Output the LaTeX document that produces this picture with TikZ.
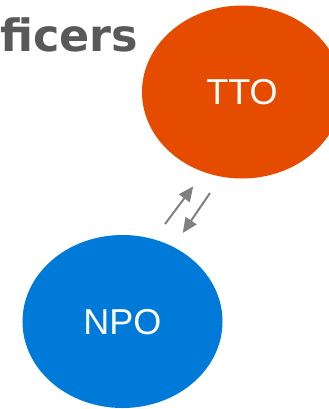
\documentclass[tikz,border=0pt]{standalone}
\usepackage{fontspec}
\setmainfont{Liberation Sans}
\newfontfamily\titlefont{DejaVu Sans}
\usetikzlibrary{shapes.geometric,arrows.meta}
\definecolor{ttoorange}{RGB}{230,76,0}
\definecolor{npoblue}{RGB}{0,122,217}
\definecolor{titlegray}{RGB}{89,89,89}
\definecolor{arrowgray}{RGB}{128,128,128}
\begin{document}
\begin{tikzpicture}[x=1bp,y=-1bp,
  party/.style={ellipse, inner sep=0pt, minimum width=200bp, minimum height=173bp,
    text=white, font=\fontsize{36bp}{40bp}\selectfont, text height=25.8bp, text depth=0pt},
  flow/.style={draw=arrowgray, line width=2bp, -{Triangle[length=15bp,width=13bp]}}]
\useasboundingbox (0,0) rectangle (329,409);
\clip (0,0) rectangle (329,409);
\node[anchor=base west, inner sep=0pt, text=titlegray,
  font=\titlefont\bfseries\fontsize{44.5bp}{50bp}\selectfont] (title) at (0,51) {ficers};
\node[party, fill=ttoorange] (tto) at (242,92) {TTO};
\node[party, fill=npoblue] (npo) at (122.5,321.5) {NPO};
\coordinate (up1) at (165,224);
\coordinate (up2) at (193.3,186.3);
\coordinate (dn1) at (210,193);
\coordinate (dn2) at (182.7,233);
\draw[flow] (up1) -- (up2);
\draw[flow] (dn1) -- (dn2);
\end{tikzpicture}
\end{document}
